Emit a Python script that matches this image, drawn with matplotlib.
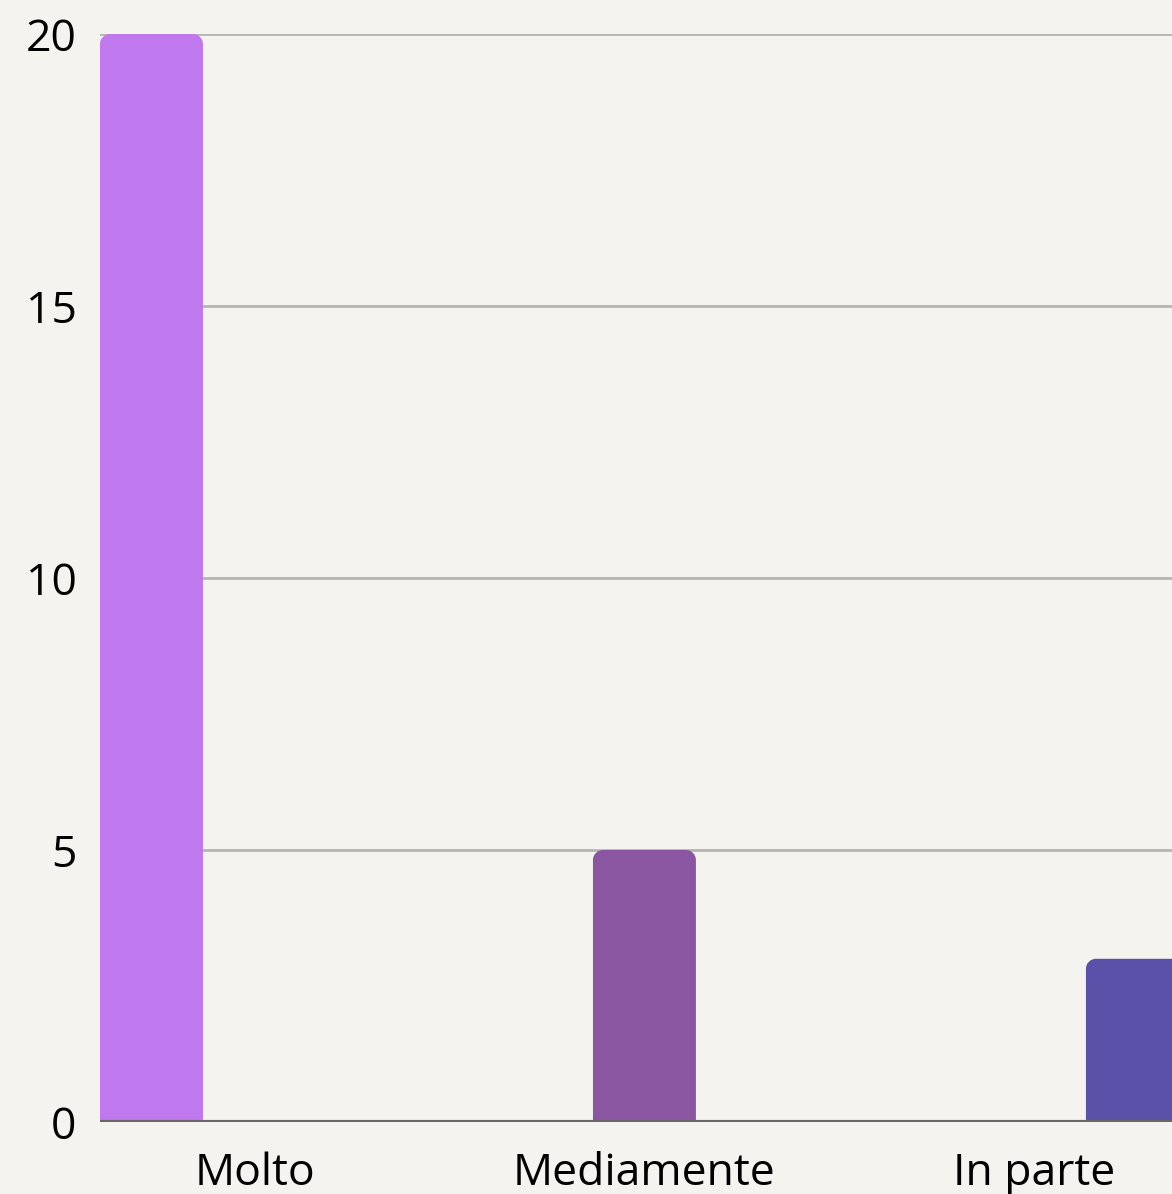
import matplotlib
matplotlib.use("Agg")
import matplotlib.pyplot as plt
import numpy as np
from matplotlib.path import Path
from matplotlib.patches import PathPatch

categories = ["Molto", "Mediamente", "In parte"]
series_values = [
    [20, 0, 0],
    [0, 5, 0],
    [0, 0, 3],
]
series_colors = ["#BF78EE", "#8B56A1", "#5A52A8"]
y_ticks = [0, 5, 10, 15, 20]

plt.rcParams["font.family"] = ["Open Sans", "DejaVu Sans"]

W, H, DPI = 1172, 1194, 100
fig = plt.figure(figsize=(W / DPI, H / DPI), dpi=DPI)
bg = "#F4F3EF"
fig.patch.set_facecolor(bg)
ax = fig.add_axes([100 / W, 72 / H, 1 - 100 / W, 1088 / H])
ax.set_facecolor(bg)

bar_w = 0.264
x = np.arange(len(categories))
ax.set_xlim(-1.5 * bar_w, -1.5 * bar_w + 1072 / 390)
ax.set_ylim(0, 20)


def rounded_bar(ax, x0, width, height, color, r_px=10):
    # radius in pixels converted into data units on each axis
    ppx = (ax.get_position().width * W) / (ax.get_xlim()[1] - ax.get_xlim()[0])
    ppy = (ax.get_position().height * H) / (ax.get_ylim()[1] - ax.get_ylim()[0])
    rx, ry = r_px / ppx, r_px / ppy
    k = 0.5523
    x1 = x0 + width
    verts = [
        (x0, 0), (x0, height - ry),
        (x0, height - ry + k * ry), (x0 + rx - k * rx, height), (x0 + rx, height),
        (x1 - rx, height),
        (x1 - rx + k * rx, height), (x1, height - ry + k * ry), (x1, height - ry),
        (x1, 0), (x0, 0),
    ]
    codes = [Path.MOVETO, Path.LINETO,
             Path.CURVE4, Path.CURVE4, Path.CURVE4,
             Path.LINETO,
             Path.CURVE4, Path.CURVE4, Path.CURVE4,
             Path.LINETO, Path.CLOSEPOLY]
    ax.add_patch(PathPatch(Path(verts, codes), facecolor=color,
                           edgecolor="none", zorder=3))


for i, vals in enumerate(series_values):
    offset = (i - 1) * bar_w
    for xi, v in zip(x, vals):
        if v > 0:
            rounded_bar(ax, xi + offset - bar_w / 2, bar_w, v, series_colors[i])

ax.set_yticks(y_ticks)
ax.set_xticks(x)
ax.set_xticklabels(categories)
ax.yaxis.grid(True, color="#B5B5B5", linewidth=2, zorder=0)
ax.set_axisbelow(True)
ax.axhline(0, color="#666666", linewidth=3, zorder=4)

for s in ax.spines.values():
    s.set_visible(False)
ax.tick_params(axis="both", length=0, labelsize=32, colors="black")
ax.tick_params(axis="y", pad=17)
ax.tick_params(axis="x", pad=21)

fig.savefig("out.png", dpi=DPI, facecolor=bg)
